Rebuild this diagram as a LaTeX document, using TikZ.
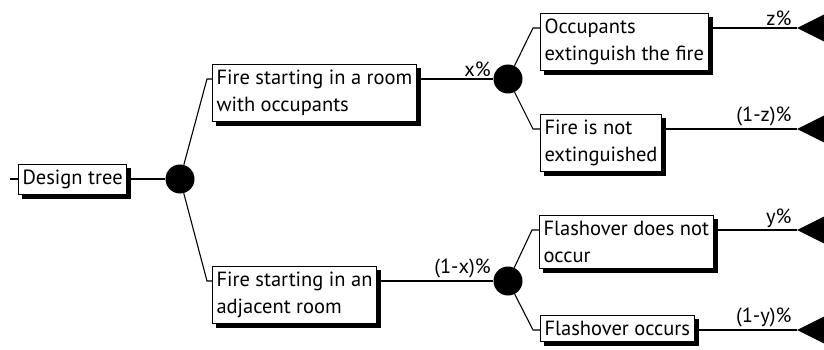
\documentclass[tikz,border=0pt]{standalone}
\usepackage{fontspec}
\setmainfont{PT Sans}
\usetikzlibrary{positioning,calc,shadows}
\tikzset{
  event/.style={
    rectangle, draw=black, fill=white, line width=1pt,
    align=left, anchor=north west,
    inner xsep=4pt, inner ysep=5.5pt,
    font=\fontsize{20.5}{27}\selectfont,
    copy shadow={shadow xshift=4pt, shadow yshift=-4pt, fill=black, draw=black}
  },
  % nodi di scelta e rami
  chance/.style={circle, fill=black, minimum size=29pt, inner sep=0pt},
  branch/.style={line width=1.1pt},
  share/.style={anchor=south east, inner sep=2pt, font=\fontsize{20.5}{24}\selectfont},
  outcome/.style={fill=black}
}

\begin{document}
\begin{tikzpicture}[x=1pt, y=-1pt]
\useasboundingbox (0,0) rectangle (824,350);

% Radice dell'albero
\coordinate (entry) at (10,179);
\node[event] (tree) at (18,164) {Design tree};
\node[chance] (root) at (180,179) {};

% Primo livello
\node[event] (occupied) at (212,64) {Fire starting in a room\\with occupants};
\node[event] (adjacent) at (212,266) {Fire starting in an\\adjacent room};
\node[chance] (splitA) at (508,79) {};
\node[chance] (splitB) at (508,281) {};

% Secondo livello
\node[event] (extinguish) at (540,13) {Occupants\\extinguish the fire};
\node[event] (notext) at (540,114) {Fire is not\\extinguished};
\node[event] (noflash) at (539,215) {Flashover does not\\occur};
\node[event] (flash) at (540,315) {Flashover occurs};

% Esiti finali
\coordinate (endz) at (797,28);
\coordinate (endnz) at (797,129);
\coordinate (endy) at (797,230);
\coordinate (endny) at (797,330);

% Rami
\draw[branch] (entry) -- ([yshift=-15pt]tree.north west);
\draw[branch] ([yshift=-15pt]tree.north east) -- (root);
\draw[branch] (root) -- ([xshift=-5pt,yshift=-15pt]occupied.north west) -- ([yshift=-15pt]occupied.north west);
\draw[branch] (root) -- ([xshift=-5pt,yshift=-15pt]adjacent.north west) -- ([yshift=-15pt]adjacent.north west);
\draw[branch] ([yshift=-15pt]occupied.north east) -- node[share, pos=1] {x\%} (splitA);
\draw[branch] ([yshift=-15pt]adjacent.north east) -- node[share, pos=1] {(1-x)\%} (splitB);

\draw[branch] (splitA) -- ([xshift=-7pt,yshift=-15pt]extinguish.north west) -- ([yshift=-15pt]extinguish.north west);
\draw[branch] (splitA) -- ([xshift=-7pt,yshift=-15pt]notext.north west) -- ([yshift=-15pt]notext.north west);
\draw[branch] (splitB) -- ([xshift=-7pt,yshift=-15pt]noflash.north west) -- ([yshift=-15pt]noflash.north west);
\draw[branch] (splitB) -- ([xshift=-7pt,yshift=-15pt]flash.north west) -- ([yshift=-15pt]flash.north west);

\draw[branch] ([yshift=-15pt]extinguish.north east) -- node[share, pos=1, xshift=-3pt] {z\%} (endz);
\draw[branch] ([yshift=-15pt]notext.north east) -- node[share, pos=1, xshift=-3pt] {(1-z)\%} (endnz);
\draw[branch] ([yshift=-15pt]noflash.north east) -- node[share, pos=1, xshift=-3pt] {y\%} (endy);
\draw[branch] ([yshift=-15pt]flash.north east) -- node[share, pos=1, xshift=-3pt] {(1-y)\%} (endny);

\fill[outcome] (endz) -- ++(27,-13.5) -- ++(0,27) -- cycle;
\fill[outcome] (endnz) -- ++(27,-13.5) -- ++(0,27) -- cycle;
\fill[outcome] (endy) -- ++(27,-13.5) -- ++(0,27) -- cycle;
\fill[outcome] (endny) -- ++(27,-13.5) -- ++(0,27) -- cycle;

\end{tikzpicture}
\end{document}
